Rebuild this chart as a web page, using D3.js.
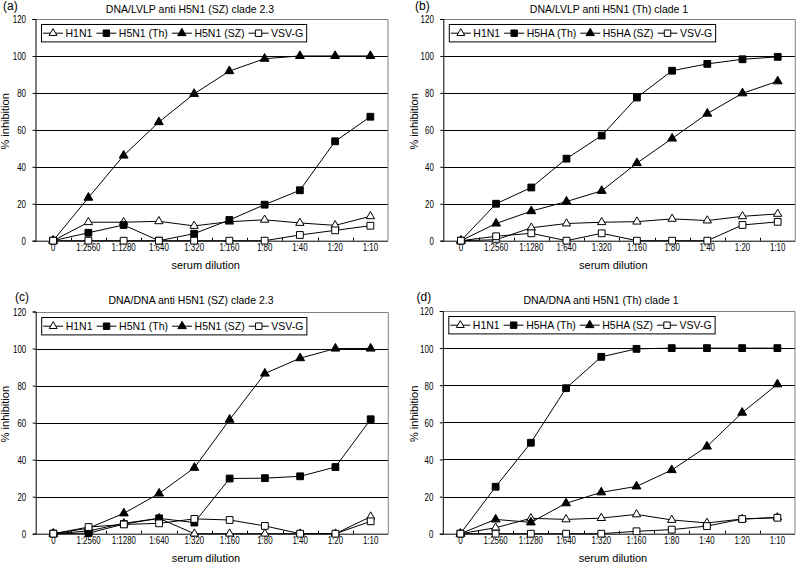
<!DOCTYPE html>
<html>
<head>
<meta charset="utf-8">
<script src="https://cdn.jsdelivr.net/npm/d3@7"></script>
<style>
  html, body { margin: 0; padding: 0; background: #fff; }
  svg { display: block; font-family: "Liberation Sans", Arial, sans-serif; }
</style>
</head>
<body>
<svg id="chart" width="796" height="564"></svg>
<script>
// ---------- data ----------
const categories = ["0", "1:2560", "1:1280", "1:640", "1:320", "1:160", "1:80", "1:40", "1:20", "1:10"];
const yTicks = [0, 20, 40, 60, 80, 100, 120];
const panelLetters = ["(a)", "(b)", "(c)", "(d)"];
const panelTitles = [
  "DNA/LVLP anti H5N1 (SZ) clade 2.3",
  "DNA/LVLP anti H5N1 (Th) clade 1",
  "DNA/DNA anti H5N1 (SZ) clade 2.3",
  "DNA/DNA anti H5N1 (Th) clade 1"
];
const seriesNamesSZ = ["H1N1", "H5N1 (Th)", "H5N1 (SZ)", "VSV-G"];
const seriesNamesTh = ["H1N1", "H5HA (Th)", "H5HA (SZ)", "VSV-G"];
const xLabel = "serum dilution";
const yLabel = "% inhibition";

// panel (a)
const a_H1N1   = [0, 10, 10, 10.5, 8, 10.3, 11.3, 9.6, 8.3, 13.2];
const a_H5N1Th = [0, 4.3, 8.5, 0, 3.8, 11.2, 19.5, 27.3, 53.8, 67.1];
const a_H5N1SZ = [0, 23.3, 46.1, 64.2, 79.5, 91.8, 98.5, 100, 100, 100];
const a_VSVG   = [0, 0, 0, 0, 0, 0, 0, 3.1, 5.6, 8.1];
// panel (b)
const b_H1N1   = [0, 0.5, 7, 9.3, 10, 10.3, 11.8, 10.9, 13.2, 14.5];
const b_H5HATh = [0, 20, 28.8, 44.4, 56.9, 77.5, 92, 95.7, 98.2, 99.5];
const b_H5HASZ = [0, 9.3, 16, 21.2, 27, 42, 55.3, 68.8, 79.8, 86.3];
const b_VSVG   = [0, 2.4, 4, 0, 4, 0, 0, 0, 8.5, 10.2];
// panel (c)
const c_H1N1   = [0, 1.5, 5.6, 8.3, 0, 0, 0, 0, 0, 9.2];
const c_H5N1Th = [0, 0.3, 5.2, 8.3, 6, 29.8, 30, 31, 36, 61.8];
const c_H5N1SZ = [0, 3, 11, 21.7, 35.6, 61.6, 86.5, 94.8, 100, 100];
const c_VSVG   = [0, 3.6, 5, 5.6, 8, 7.4, 4.2, 0, 0, 6.7];
// panel (d)
const d_H1N1   = [0, 3.2, 8.3, 7.7, 8.4, 10.4, 7.4, 5.8, 7.9, 8.8];
const d_H5HATh = [0, 25.3, 49, 78.4, 95.3, 99.6, 100, 100, 100, 100];
const d_H5HASZ = [0, 7.7, 6.1, 16.4, 22.3, 25.5, 34.3, 47, 65.2, 80.5];
const d_VSVG   = [0, 0, 0, 0, 0, 1.3, 2.2, 4.1, 7.9, 8.6];

// ---------- layout (not data) ----------
const layouts = [
  { left: 35.5, right: 388, top: 19, bottom: 240.7, titleX: 190, titleY: 12.5, letterX: 3, letterY: 9.5, ylabX: 9 },
  { left: 443.3, right: 795.3, top: 19, bottom: 240.7, titleX: 609, titleY: 12.5, letterX: 415, letterY: 9.5, ylabX: 417.5 },
  { left: 35.7, right: 388.3, top: 311.5, bottom: 533.7, titleX: 191, titleY: 303.5, letterX: 15, letterY: 300.5, ylabX: 9 },
  { left: 442.8, right: 795, top: 311, bottom: 533.7, titleX: 601, titleY: 303.5, letterX: 416.5, letterY: 300.5, ylabX: 417.5 }
];
// marker styles per series index: open triangle, filled square, filled triangle, open square
const markerStyles = [
  { type: d3.symbolTriangle, size: 30, fill: "#fff" },
  { type: d3.symbolSquare, size: 46, fill: "#000" },
  { type: d3.symbolTriangle, size: 34, fill: "#000" },
  { type: d3.symbolSquare, size: 46, fill: "#fff" }
];

const panels = [
  { names: seriesNamesSZ, series: [a_H1N1, a_H5N1Th, a_H5N1SZ, a_VSVG] },
  { names: seriesNamesTh, series: [b_H1N1, b_H5HATh, b_H5HASZ, b_VSVG] },
  { names: seriesNamesSZ, series: [c_H1N1, c_H5N1Th, c_H5N1SZ, c_VSVG] },
  { names: seriesNamesTh, series: [d_H1N1, d_H5HATh, d_H5HASZ, d_VSVG] }
];

const svg = d3.select("#chart");
const TICK_SCALE = 0.72;

panels.forEach((p, pi) => {
  const L = layouts[pi];
  const x = d3.scaleBand().domain(categories).range([L.left, L.right]).paddingInner(0).paddingOuter(0);
  const y = d3.scaleLinear().domain([0, 120]).range([L.bottom, L.top]);
  const cx = c => x(c) + x.bandwidth() / 2;
  const g = svg.append("g");

  // gridlines
  g.append("g").selectAll("line").data(yTicks.filter(t => t > 0 && t < 120)).join("line")
    .attr("x1", L.left).attr("x2", L.right)
    .attr("y1", d => Math.round(y(d)) + 0.5).attr("y2", d => Math.round(y(d)) + 0.5)
    .attr("stroke", "#000").attr("stroke-width", 1);

  // frame top/right (grey)
  g.append("path")
    .attr("d", `M${L.left},${Math.round(y(120)) + 0.5}H${L.right}V${L.bottom}`)
    .attr("fill", "none").attr("stroke", "#808080").attr("stroke-width", 1);

  // y axis
  const yAxis = d3.axisLeft(y).tickValues(yTicks).tickSize(3).tickPadding(6).tickFormat(d3.format("d"));
  const yg = g.append("g").attr("transform", `translate(${L.left},0)`).call(yAxis);
  yg.select(".domain").attr("stroke", "#000");
  yg.selectAll(".tick line").attr("stroke", "#000");
  yg.selectAll(".tick text")
    .attr("font-size", 11).attr("font-family", "Liberation Sans, Arial, sans-serif").attr("fill", "#000")
    .attr("x", -9.5 / TICK_SCALE).attr("dy", "0.36em")
    .attr("transform", `scale(${TICK_SCALE},1)`);

  // x axis (ticks between categories, pointing inward)
  const xAxis = d3.axisBottom(x).tickSize(0).tickPadding(0);
  const xg = g.append("g").attr("transform", `translate(0,${L.bottom})`).call(xAxis);
  xg.select(".domain").attr("stroke", "#000").attr("d", `M${L.left},0.5H${L.right}`);
  xg.selectAll(".tick text")
    .attr("font-size", 11).attr("font-family", "Liberation Sans, Arial, sans-serif").attr("fill", "#000")
    .attr("y", 10.5).attr("dy", 0)
    .attr("transform", `scale(${TICK_SCALE},1)`);
  // boundary ticks
  const bounds = categories.slice(1).map(c => x(c));
  g.append("g").selectAll("line").data(bounds).join("line")
    .attr("x1", d => Math.round(d) + 0.5).attr("x2", d => Math.round(d) + 0.5)
    .attr("y1", L.bottom).attr("y2", L.bottom - 3)
    .attr("stroke", "#000");

  // series
  const line = d3.line().x((d, i) => cx(categories[i])).y(d => y(d));
  p.series.forEach((vals, si) => {
    const ms = markerStyles[si];
    g.append("path").datum(vals).attr("d", line)
      .attr("fill", "none").attr("stroke", "#000").attr("stroke-width", 1);
    const sym = d3.symbol().type(ms.type).size(ms.size);
    g.append("g").selectAll("path").data(vals).join("path")
      .attr("transform", (d, i) => `translate(${cx(categories[i])},${y(d)})`)
      .attr("d", sym)
      .attr("fill", ms.fill).attr("stroke", "#000").attr("stroke-width", 1);
  });

  // legend
  const lg = g.append("g");
  const legTop = L.top + 5.3, legH = 17.4, legLeft = L.left + 5.5;
  const box = lg.append("rect").attr("x", legLeft + 0.5).attr("y", Math.round(legTop) + 0.5)
    .attr("height", legH).attr("fill", "#fff").attr("stroke", "#000").attr("stroke-width", 1);
  let xx = legLeft + 2;
  const midY = Math.round(legTop) + 0.5 + legH / 2;
  p.names.forEach((name, si) => {
    const ms = markerStyles[si];
    const segW = 20;
    lg.append("line").attr("x1", xx).attr("x2", xx + segW).attr("y1", midY).attr("y2", midY)
      .attr("stroke", "#000");
    lg.append("path").attr("d", d3.symbol().type(ms.type).size(ms.size * 0.9)())
      .attr("transform", `translate(${xx + segW / 2},${midY})`)
      .attr("fill", ms.fill).attr("stroke", "#000");
    const t = lg.append("text").attr("x", xx + segW + 2.5).attr("y", midY + 3.8)
      .attr("font-size", 10.5).text(name);
    xx = xx + segW + 2.5 + t.node().getComputedTextLength() + 4;
  });
  box.attr("width", xx - legLeft - 1);

  // titles and labels
  g.append("text").attr("x", L.titleX).attr("y", L.titleY).attr("text-anchor", "middle")
    .attr("font-size", 10.5).text(panelTitles[pi]);
  g.append("text").attr("x", L.letterX).attr("y", L.letterY)
    .attr("font-size", 12).text(panelLetters[pi]);
  g.append("text").attr("x", (L.left + L.right) / 2 - 6).attr("y", L.bottom + 28)
    .attr("text-anchor", "middle").attr("font-size", 11).text(xLabel);
  g.append("text")
    .attr("transform", `translate(${L.ylabX},${(L.top + L.bottom) / 2 - 8.5}) rotate(-90)`)
    .attr("text-anchor", "middle").attr("font-size", 11).text(yLabel);
});
</script>
</body>
</html>
